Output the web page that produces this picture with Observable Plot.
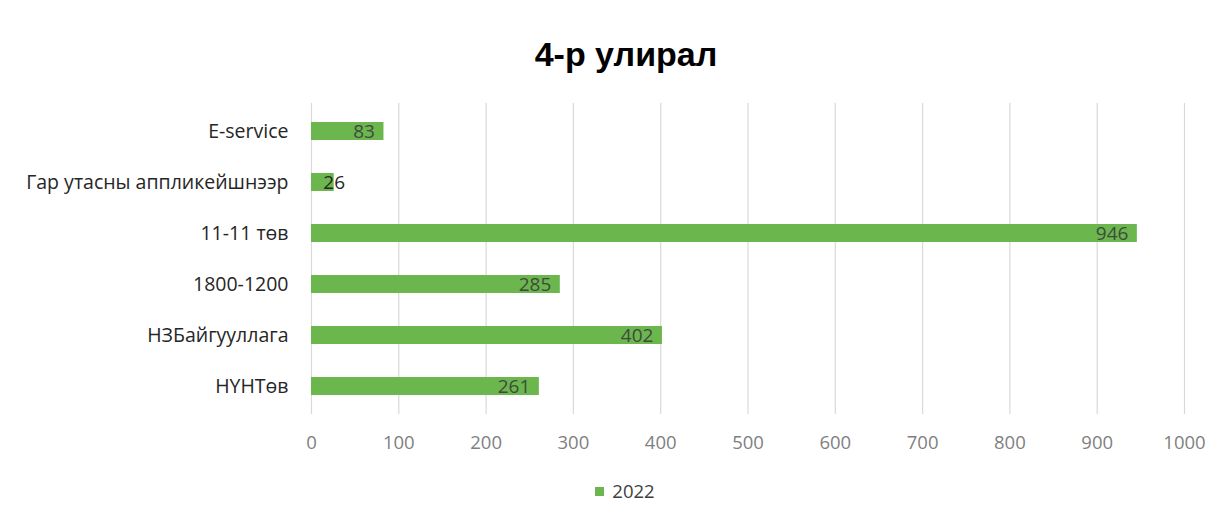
<!DOCTYPE html>
<html>
<head>
<meta charset="utf-8">
<script src="https://cdn.jsdelivr.net/npm/d3@7"></script>
<script src="https://cdn.jsdelivr.net/npm/@observablehq/plot@0.6"></script>
<style>
  html, body { margin: 0; padding: 0; background: #fff; width: 1226px; height: 527px; overflow: hidden; }
  #title { height: 90px; box-sizing: border-box; padding-top: 36px; padding-left: 26px; text-align: center;
           font-family: "Liberation Sans", Arial, sans-serif; font-weight: bold; font-size: 34px; color: #000; line-height: 36px; }
  #legend { text-align: center; padding-left: 24px; font-family: "Open Sans", sans-serif; font-size: 18.5px; color: #404040; margin-top: 13px; }
  #legend .sw { display: inline-block; width: 9px; height: 9px; background: #6cb64e; margin-right: 8px; vertical-align: 2px; }
</style>
</head>
<body>
<div id="title">4-р улирал</div>
<div id="chart"></div>
<div id="legend"><span class="sw"></span>2022</div>
<script>
const categories = ["E-service", "Гар утасны аппликейшнээр", "11-11 төв", "1800-1200", "НЗБайгууллага", "НҮНТөв"];
const values2022 = [83, 26, 946, 285, 402, 261];
const xTicks = [0, 100, 200, 300, 400, 500, 600, 700, 800, 900, 1000];

const data = categories.map((c, i) => ({category: c, value: values2022[i]}));
const fits = d => d.value >= 50;

const chart = Plot.plot({
  width: 1226,
  height: 375,
  marginLeft: 311,
  marginRight: 42,
  marginTop: 13,
  marginBottom: 51,
  style: {fontFamily: "'Open Sans', sans-serif", background: "#fff"},
  x: {domain: [0, 1000], ticks: xTicks, grid: false, label: null},
  y: {domain: categories, paddingInner: 0.655, paddingOuter: 0.33, label: null},
  marks: [
    Plot.ruleX(xTicks, {stroke: "#d9d9d9", strokeWidth: 1.2}),
    Plot.barX(data, {y: "category", x: "value", fill: "#6cb64e"}),
    Plot.text(data.filter(fits), {y: "category", x: "value", text: d => String(d.value), textAnchor: "end", dx: -9,
                     fill: "#3f4a3f", fontSize: 19}),
    Plot.text(data.filter(d => !fits(d)), {y: "category", x: "value", text: d => String(d.value), textAnchor: "middle",
                     fill: "#262626", fontSize: 19}),
    Plot.axisX({ticks: xTicks, tickFormat: d => String(d), tickSize: 0, tickPadding: 21, fontSize: 18.5, color: "#7f7f7f", label: null}),
    Plot.axisY({tickSize: 0, tickPadding: 23, fontSize: 19.5, color: "#262626", label: null})
  ]
});
document.getElementById("chart").appendChild(chart);
</script>
</body>
</html>
